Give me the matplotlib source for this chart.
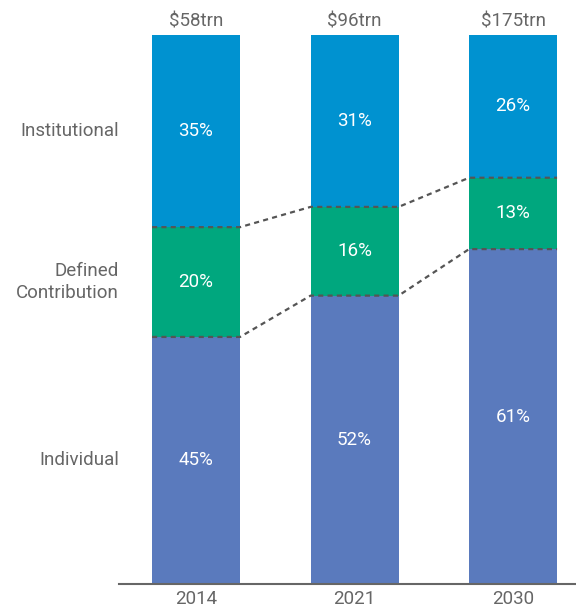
import matplotlib
matplotlib.use("Agg")
import matplotlib.pyplot as plt
import numpy as np

years = ["2014", "2021", "2030"]
totals = ["$58trn", "$96trn", "$175trn"]
segment_labels = ["Individual", "Defined\nContribution", "Institutional"]
individual = [45, 52, 61]
defined_contribution = [20, 16, 13]
institutional = [35, 31, 26]

colors = ["#5a7abd", "#00a77e", "#0092d0"]
text_gray = "#666666"
font = "Roboto"
fw = "normal"
fs = 13.5

W, H = 576, 610
fig = plt.figure(figsize=(W / 100, H / 100), dpi=100)
ax_left, ax_right = 119 / W, 576 / W
ax_bottom, ax_top = (H - 584) / H, (H - 35) / H
ax = fig.add_axes([ax_left, ax_bottom, ax_right - ax_left, ax_top - ax_bottom])

x = np.arange(len(years))
width = 0.555
series = [individual, defined_contribution, institutional]
sums = np.sum(series, axis=0).astype(float)
shares = [np.array(v, dtype=float) / sums * 100 for v in series]

bottoms = np.zeros(len(years))
for vals, sh, col in zip(series, shares, colors):
    ax.bar(x, sh, width=width, bottom=bottoms, color=col, zorder=2)
    for xi, b, h, v in zip(x, bottoms, sh, vals):
        ax.text(xi, b + h / 2, f"{int(v)}%", ha="center", va="center",
                color="white", fontsize=fs, family=font, fontweight=fw, zorder=4)
    bottoms = bottoms + sh

# dashed connector lines along boundaries
for k in (1, 2):
    cum = np.sum(shares[:k], axis=0)
    xs, ys = [], []
    for xi, c in zip(x, cum):
        xs += [xi - width / 2, xi + width / 2]
        ys += [c, c]
    ax.plot(xs, ys, color="#555555", lw=1.6, ls=(0, (2.3, 1.9)), zorder=3)

# totals above bars
for xi, t, tot in zip(x, totals, bottoms):
    ax.text(xi, tot + 0.9, t, ha="center", va="bottom", color=text_gray,
            fontsize=fs, family=font, fontweight=fw, clip_on=False)

# left-side segment labels aligned with first bar segments
cum0 = 0
for lab, sh in zip(segment_labels, shares):
    ax.text(-0.486, cum0 + sh[0] / 2, lab, ha="right", va="center",
            color=text_gray, fontsize=fs, family=font, fontweight=fw,
            linespacing=1.3, clip_on=False)
    cum0 += sh[0]

ax.set_xlim(-0.486, 2.397)
ax.set_ylim(0, 100)
ax.set_xticks(x)
ax.set_xticklabels(years, family=font, fontsize=fs, fontweight=fw, color=text_gray)
ax.tick_params(axis="x", length=0, pad=4)
ax.set_yticks([])
for s in ["top", "right", "left"]:
    ax.spines[s].set_visible(False)
ax.spines["bottom"].set_color("#666666")
ax.spines["bottom"].set_linewidth(1.5)
ax.patch.set_alpha(0)

fig.savefig("out.png", dpi=100)
